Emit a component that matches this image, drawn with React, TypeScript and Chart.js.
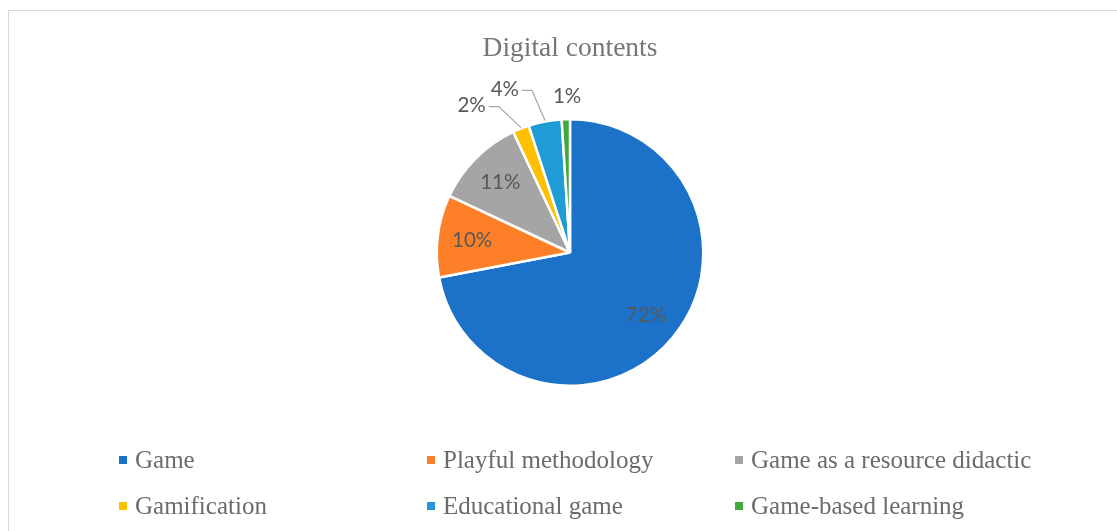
import React, { useEffect, useRef } from "react";
import { Chart, registerables } from "chart.js";

Chart.register(...registerables);

const TITLE = "Digital contents";
const CATEGORIES = [
  "Game",
  "Playful methodology",
  "Game as a resource didactic",
  "Gamification",
  "Educational game",
  "Game-based learning",
];
const VALUES = [72, 10, 11, 2, 4, 1];
const COLORS = ["#1b72c8", "#fd7f27", "#a5a5a5", "#ffc000", "#1f9bd6", "#41a83b"];

const W = 1115;
const H = 521;

const labelPlugin = {
  id: "pieLabels",
  afterDatasetsDraw(chart: any) {
    const ctx = chart.ctx;
    const meta = chart.getDatasetMeta(0);
    const data = chart.data.datasets[0].data as number[];
    const total = data.reduce((a: number, b: number) => a + b, 0);
    ctx.save();
    ctx.font = "20.5px Lato, 'Open Sans', sans-serif";
    ctx.textBaseline = "middle";
    ctx.textAlign = "center";
    meta.data.forEach((arc: any, i: number) => {
      const { x, y, startAngle, endAngle, outerRadius } = arc.getProps(
        ["x", "y", "startAngle", "endAngle", "outerRadius"],
        true
      );
      const mid = (startAngle + endAngle) / 2;
      const pct = Math.round((data[i] / total) * 100);
      const text = pct + "%";
      ctx.fillStyle = "#595959";
      if (pct >= 5) {
        const r = outerRadius * 0.74;
        ctx.fillText(text, x + Math.cos(mid) * r, y + Math.sin(mid) * r);
      } else {
        const r = outerRadius * 1.17;
        let lx = x + Math.cos(mid) * r;
        let ly = y + Math.sin(mid) * r;
        const shift = pct >= 4 ? [-36, -10] : pct >= 2 ? [-41, -2] : [2, 0];
        lx += shift[0];
        ly += shift[1];
        ctx.fillText(text, lx, ly);
        if (pct >= 2) {
          const tw = ctx.measureText(text).width;
          const ex = x + Math.cos(mid) * outerRadius;
          const ey = y + Math.sin(mid) * outerRadius;
          ctx.strokeStyle = "#a6a6a6";
          ctx.lineWidth = 1.2;
          ctx.beginPath();
          ctx.moveTo(lx + tw / 2 + 3, ly + 1);
          ctx.lineTo(lx + tw / 2 + 13, ly + 1);
          ctx.lineTo(ex, ey - 1);
          ctx.stroke();
        }
      }
    });
    ctx.restore();
  },
  afterDraw(chart: any) {
    const ctx = chart.ctx;
    const labels = chart.data.labels as string[];
    const colors = chart.data.datasets[0].backgroundColor as string[];
    ctx.save();
    // title
    ctx.font = "27.5px 'Liberation Serif', serif";
    ctx.fillStyle = "#767676";
    ctx.textAlign = "center";
    ctx.textBaseline = "middle";
    ctx.fillText(TITLE, 561, 38);
    // legend
    ctx.font = "25px 'Liberation Serif', serif";
    ctx.textAlign = "left";
    labels.forEach((lab: string, i: number) => {
      const col = i % 3;
      const row = Math.floor(i / 3);
      const mx = 110 + col * 308;
      const my = 449 + row * 46;
      ctx.fillStyle = colors[i];
      ctx.fillRect(mx, my - 4, 8, 8);
      ctx.fillStyle = "#6b6b6b";
      ctx.fillText(lab, mx + 16, my + 1);
    });
    ctx.restore();
  },
};

export default function App() {
  const ref = useRef<HTMLCanvasElement | null>(null);
  useEffect(() => {
    if (!ref.current) return;
    const chart = new Chart(ref.current, {
      type: "pie",
      data: {
        labels: CATEGORIES,
        datasets: [
          {
            data: VALUES,
            backgroundColor: COLORS,
            borderColor: "#ffffff",
            borderWidth: 2.5,
          },
        ],
      },
      options: {
        animation: false,
        responsive: false,
        devicePixelRatio: 1,
        layout: { padding: { top: 107, bottom: 145, left: 398, right: 391 } },
        plugins: {
          legend: { display: false },
          tooltip: { enabled: false },
          title: { display: false },
        },
      },
      plugins: [labelPlugin],
    });
    return () => chart.destroy();
  }, []);
  return (
    <div
      style={{
        position: "fixed",
        left: 8,
        top: 10,
        width: W,
        height: H + 20,
        border: "1px solid #d9d9d9",
        background: "#fff",
      }}
    >
      <canvas ref={ref} width={W} height={H} style={{ display: "block" }} />
    </div>
  );
}
